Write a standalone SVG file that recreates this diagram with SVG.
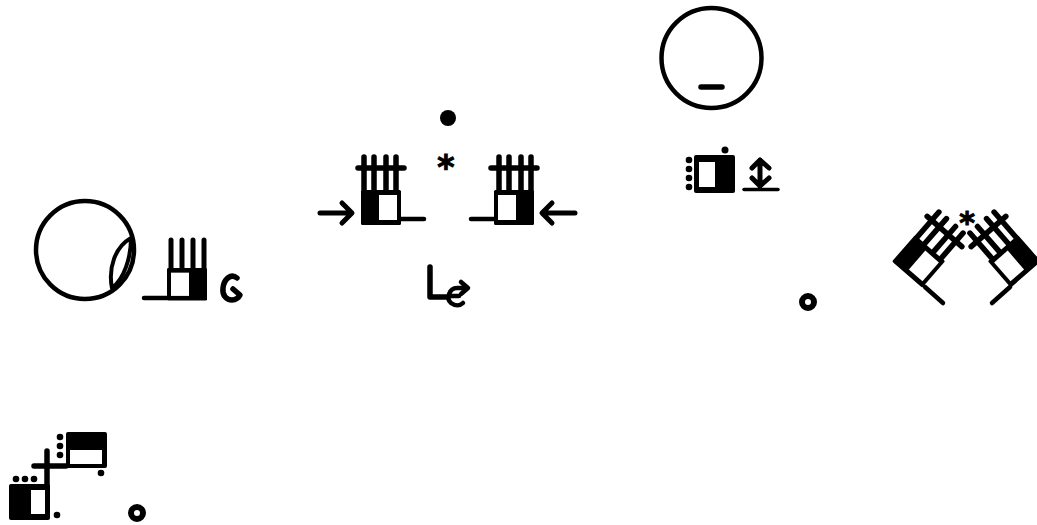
<svg xmlns="http://www.w3.org/2000/svg" xmlns:xlink="http://www.w3.org/1999/xlink" width="1037" height="525" viewBox="0 0 1037 525">
<style>
.s{fill:none;stroke:#000;stroke-linecap:round;stroke-linejoin:round}
.k{fill:#000}
.w{fill:#fff}
.t{font-family:"DejaVu Sans",sans-serif;font-weight:bold;fill:#000;stroke:#000;stroke-width:1;text-anchor:middle}
</style>
<defs>
<g id="palm">
<rect class="k" x="0" y="0" width="40" height="35" rx="1.500"/>
<rect class="w" x="18" y="5" width="18" height="25"/>
</g>
<g id="fingers">
<path class="s" stroke-width="5.500" d="M3,0V-33M13,0V-33M25,0V-33M35,0V-33"/>
<path class="s" stroke-width="5.500" d="M-3,-22H43"/>
<use xlink:href="#palm"/>
</g>
</defs>
<rect width="1037" height="525" fill="#fff"/>
<g id="head-left">
<circle class="s" cx="85" cy="250" r="49" stroke-width="4.500"/>
<path class="s" stroke-width="4" d="M131,238C115,247 108,268 112,288C124,279 131,258 131,238Z"/>
</g>
<g id="hand-left">
<path class="s" stroke-width="5" d="M171,268V240M182,268V240M193,268V240M204,268V240"/>
<path class="s" stroke-width="4.500" d="M144,298H167"/>
<g transform="translate(207,268) scale(-1,0.93)"><use xlink:href="#palm"/></g>
<path class="s" stroke-width="5.500" d="M237,278C231,273 224,279 223,288C222,296 227,300 232,300C236,300 239,297 240,295L233,289"/>
</g>
<g id="dot-top"><circle class="k" cx="448" cy="118" r="8"/></g>
<g id="star-top"><text class="t" x="446" y="179" font-size="33">*</text></g>
<g id="hand-center-left">
<g transform="translate(361,190)"><use xlink:href="#fingers"/><path class="s" stroke-width="4.500" d="M40,29H63"/></g>
<path class="s" stroke-width="5" d="M320,213H351M342,203L352,213L342,223"/>
</g>
<g id="hand-center-right">
<g transform="translate(534,190) scale(-1,1)"><use xlink:href="#fingers"/><path class="s" stroke-width="4.500" d="M40,29H63"/></g>
<path class="s" stroke-width="5" d="M575,213H543M552,203L542,213L552,223"/>
</g>
<g id="movement-center">
<path class="s" stroke-width="5.500" d="M430,267V297H447"/>
<path class="s" stroke-width="4.500" d="M465,288H457C449,288 446,299 451,303C455,306 460,306 463,303M449,296H459M461,282L468,288L461,294"/>
</g>
<g id="head-top">
<circle class="s" cx="711.500" cy="58" r="50" stroke-width="4.500"/>
<path class="s" stroke-width="5.500" d="M701,87H722"/>
</g>
<g id="hand-top">
<rect class="k" x="694" y="155" width="41" height="38" rx="2"/>
<rect class="w" x="699" y="162" width="16" height="25"/>
<circle class="k" cx="689" cy="160" r="3.300"/><circle class="k" cx="689" cy="169" r="3.300"/><circle class="k" cx="689" cy="178" r="3.300"/><circle class="k" cx="689" cy="187" r="3.300"/>
<circle class="k" cx="725" cy="150" r="3.500"/>
<path class="s" stroke-width="5" d="M760,160V186M752,168L760,160L769,168M752,178L760,186L769,178"/>
<path class="s" stroke-width="3.500" d="M744,189.500H778"/>
</g>
<g id="ring-right"><circle class="s" cx="808" cy="302" r="6" stroke-width="6"/></g>
<g id="hand-right-a"><g transform="translate(915,235) rotate(41)"><use xlink:href="#fingers"/></g><path class="s" stroke-width="4.500" d="M925,287L943,303"/></g>
<g id="hand-right-b"><g transform="translate(1018,235) rotate(-41) scale(-1,1)"><use xlink:href="#fingers"/></g><path class="s" stroke-width="4.500" d="M1010,287L992,303"/></g>
<g id="star-right"><text class="t" x="967" y="233" font-size="30">*</text></g>
<g id="hand-bottom-a">
<rect class="k" x="66" y="432" width="41" height="36" rx="2"/>
<rect class="w" x="70" y="450" width="32" height="14"/>
<circle class="k" cx="60" cy="437" r="3.300"/><circle class="k" cx="60" cy="446" r="3.300"/><circle class="k" cx="60" cy="455" r="3.300"/>
<circle class="k" cx="101" cy="473" r="3.300"/>
</g>
<g id="hand-bottom-b">
<path class="s" stroke-width="5.500" d="M34,466H66M47,451V485"/>
<rect class="k" x="9" y="484" width="41" height="36" rx="2"/>
<rect class="w" x="31" y="490" width="14" height="24"/>
<circle class="k" cx="16" cy="479" r="3.300"/><circle class="k" cx="25" cy="479" r="3.300"/><circle class="k" cx="34" cy="479" r="3.300"/>
<circle class="k" cx="57" cy="515" r="3.300"/>
</g>
<g id="ring-bottom"><circle class="s" cx="137" cy="513" r="6" stroke-width="6"/></g>
</svg>
